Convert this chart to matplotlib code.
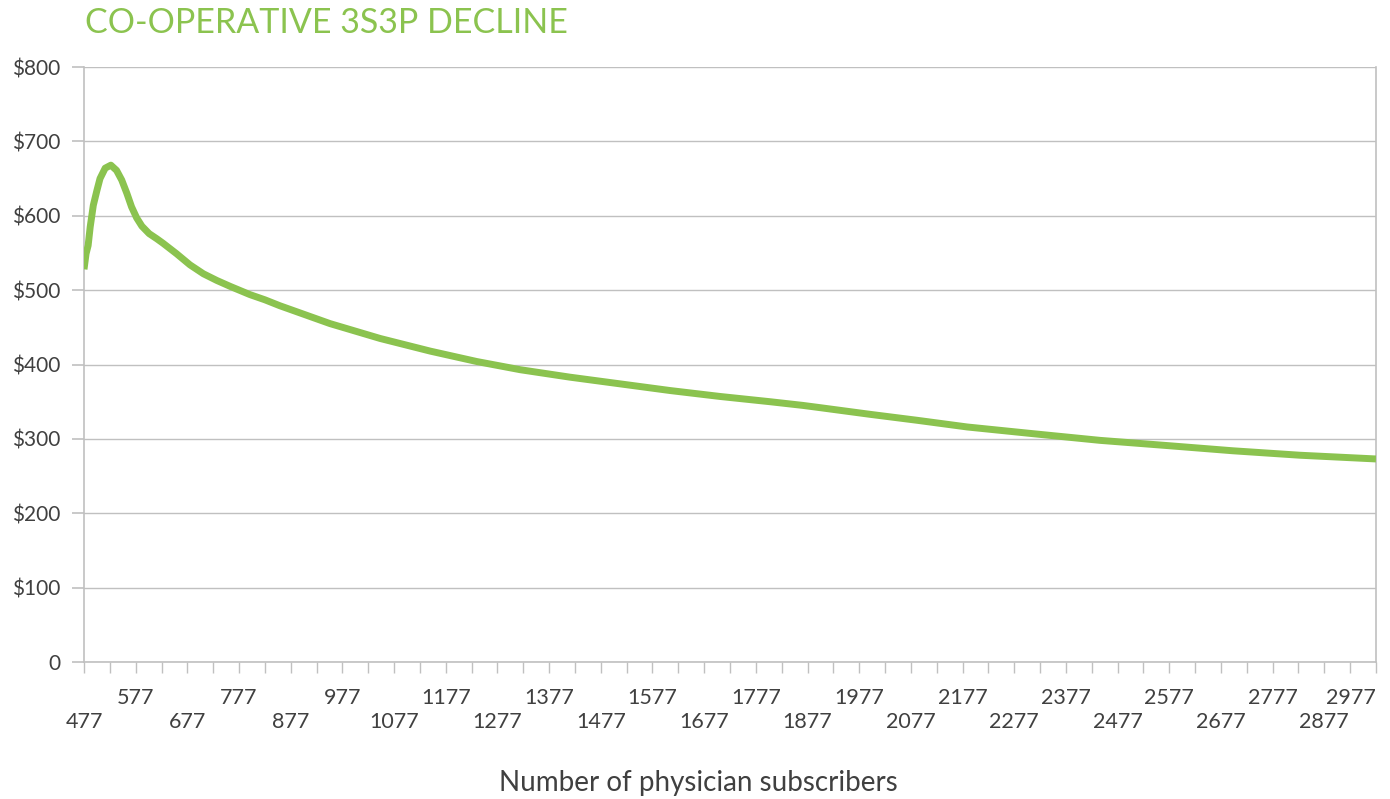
import matplotlib
matplotlib.use("Agg")
import matplotlib.pyplot as plt
from matplotlib.ticker import FixedLocator, FuncFormatter

# values
subscribers = [477, 481, 485, 489, 495, 502, 508, 518, 529, 540, 550, 560,
               569, 579, 589, 603, 618, 630, 656, 682, 708, 734, 760, 798,
               827, 856, 953, 1050, 1147, 1237, 1321, 1417, 1514, 1611, 1708,
               1804, 1868, 1901, 1998, 2089, 2186, 2313, 2443, 2573, 2700,
               2830, 2977]
cost = [528, 549, 560, 585, 614, 634, 650, 664, 668, 661, 648, 630,
        612, 597, 586, 576, 569, 563, 549, 534, 522, 513, 505, 494,
        487, 479, 455, 435, 418, 404, 393, 383, 374, 365, 357,
        350, 345, 342, 333, 325, 316, 307, 298, 291, 284,
        278, 273]
x_labels = list(range(477, 2978, 100))
x_minor = list(range(527, 2978, 100))
y_ticks = [0, 100, 200, 300, 400, 500, 600, 700, 800]

GREEN = "#8bc34f"
TEXT = "#404040"
GRID = "#c0c0c0"

plt.rcParams["font.family"] = ["Lato", "DejaVu Sans"]

fig = plt.figure(figsize=(13.9, 7.99), dpi=100)
ax = fig.add_axes([84 / 1390, 1 - 662 / 799, (1376 - 84) / 1390, (662 - 67) / 799])

ax.plot(subscribers, cost, color=GREEN, linewidth=5.0, solid_joinstyle="round",
        solid_capstyle="butt", zorder=3)

ax.set_xlim(477, 2977)
ax.set_ylim(0, 800)

ax.yaxis.set_major_locator(FixedLocator(y_ticks))
ax.yaxis.set_major_formatter(FuncFormatter(lambda v, _: "0" if v == 0 else f"${v:.0f}"))
ax.grid(axis="y", color=GRID, linewidth=1.0, zorder=0)

# Excel-style staggered category labels
ax.xaxis.set_major_locator(FixedLocator(x_labels))
ax.xaxis.set_minor_locator(FixedLocator(x_minor))
ax.set_xticklabels([("\n" if i % 2 == 0 else "") + str(v) for i, v in enumerate(x_labels)])
ax.get_xticklabels()[-1].set_horizontalalignment("right")

for side in ("left", "bottom", "right"):
    ax.spines[side].set_color(GRID)
    ax.spines[side].set_linewidth(1.2)
ax.spines["top"].set_visible(False)

ax.tick_params(axis="y", which="major", length=9, width=1.2, color=GRID, pad=8,
               labelsize=15, labelcolor=TEXT)
ax.tick_params(axis="x", which="both", length=8, width=1.0, color=GRID,
               labelsize=15.5, labelcolor=TEXT, pad=11)

fig.text(698 / 1390, 1 - 783 / 799, "Number of physician subscribers", fontsize=20,
         color=TEXT, ha="center", va="center")

fig.text(85 / 1390, 1 - 23 / 799, "CO-OPERATIVE 3S3P DECLINE", fontsize=24.5,
         color=GREEN, va="center", ha="left")

fig.savefig("out.png", dpi=100, facecolor="white")
